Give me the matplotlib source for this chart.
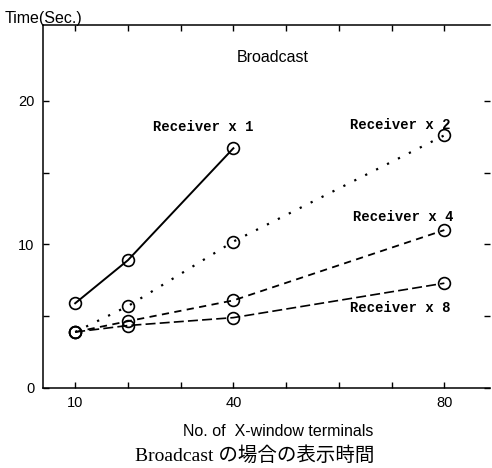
import matplotlib
matplotlib.use("Agg")
import matplotlib.pyplot as plt

# data
terminals = [10, 20, 40, 80]
recv1 = [5.9, 8.9, 16.7]          # only up to 40 terminals
recv2 = [3.9, 5.7, 10.2, 17.6]
recv4 = [3.9, 4.65, 6.1, 11.0]
recv8 = [3.9, 4.35, 4.9, 7.3]

x_ticks = [10, 20, 30, 40, 50, 60, 70, 80]
x_labels = ["10", "", "", "40", "", "", "", "80"]
y_ticks = [0, 5, 10, 15, 20]
y_labels = ["0", "", "10", "", "20"]

sans = "Liberation Sans"
mono = "Liberation Mono"

fig = plt.figure(figsize=(4.92, 4.68), dpi=100)
ax = fig.add_axes([0.0874, 0.171, 0.909, 0.776])

mk = dict(marker="o", markersize=8.5, markerfacecolor="none",
          markeredgecolor="black", markeredgewidth=1.2, color="black")
ax.plot(terminals[:3], recv1, linestyle="-", linewidth=1.4, **mk)
ax.plot(terminals, recv2, linestyle=(0, (1, 4.5)), linewidth=1.6, **mk)
ax.plot(terminals, recv4, linestyle=(0, (4, 3)), linewidth=1.3, **mk)
ax.plot(terminals, recv8, linestyle=(0, (6, 2.5)), linewidth=1.2, **mk)

ax.set_xlim(3.9, 88.7)
ax.set_ylim(0, 25.3)
ax.set_xticks(x_ticks)
ax.set_xticklabels(x_labels)
ax.set_yticks(y_ticks)
ax.set_yticklabels(y_labels)
ax.tick_params(direction="in", length=4, width=1, top=True, right=True,
               labelsize=10.5, pad=6)
for lab in ax.get_xticklabels() + ax.get_yticklabels():
    lab.set_fontfamily(sans)
ax.spines["right"].set_visible(False)
for s in ["left", "bottom", "top"]:
    ax.spines[s].set_linewidth(1.1)

# annotations
ax.text(47.4, 23.05, "Broadcast", fontsize=11.5, family=sans, ha="center", va="center")
rkw = dict(fontsize=10, family=mono, fontweight="bold", ha="left", va="center")
ax.text(24.8, 18.2, "Receiver x 1", **rkw)
ax.text(62.2, 18.3, "Receiver x 2", **rkw)
ax.text(62.6, 11.9, "Receiver x 4", **rkw)
ax.text(62.2, 5.55, "Receiver x 8", **rkw)

fig.text(5 / 492, 1 - 18 / 468, "Time(Sec.)", fontsize=11.5, family=sans,
         ha="left", va="center")
fig.text(278 / 492, 1 - 432 / 468, "No. of  X-window terminals", fontsize=11.5,
         family=sans, ha="center", va="center")
fig.text(255 / 492, 1 - 456 / 468, "Broadcast の場合の表示時間", fontsize=14,
         family=["Liberation Serif", "Noto Sans CJK JP"], ha="center", va="center")

fig.savefig("out.png", dpi=100)
